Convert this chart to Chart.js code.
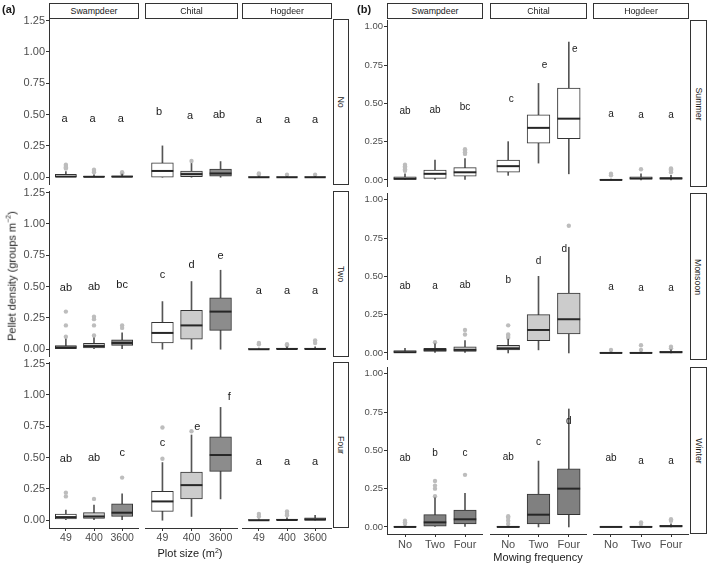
<!DOCTYPE html>
<html>
<head>
<meta charset="utf-8">
<script src="https://cdn.jsdelivr.net/npm/chart.js@4.4.1/dist/chart.umd.min.js"></script>
<style>
  body { margin: 0; width: 709px; height: 565px; position: relative; background: #fff; overflow: hidden;
         font-family: "Liberation Sans", Arial, sans-serif; color: #1a1a1a; }
  canvas { position: absolute; }
  .txt { position: absolute; z-index: 5; white-space: nowrap; }
  .strip { position: absolute; z-index: 5; box-sizing: border-box; border: 1px solid #333; background: #fff;
           font-size: 8.8px; display: flex; align-items: center; justify-content: center; }
  .strip span { white-space: nowrap; }
  .vstrip span { transform: rotate(90deg); }
  sup { font-size: 7px; }
</style>
</head>
<body>
<div class="txt" style="left:2px;top:3px;font-size:11px;font-weight:bold">(a)</div>
<div class="txt" style="left:357px;top:3px;font-size:11px;font-weight:bold">(b)</div>
<div class="txt" style="left:11px;top:276px;font-size:11px;transform:translate(-50%,-50%) rotate(-90deg)">Pellet density (groups m<sup>&minus;2</sup>)</div>
<div class="txt" style="left:190px;top:553px;font-size:11px;transform:translate(-50%,-50%)">Plot size (m<sup>2</sup>)</div>
<div class="txt" style="left:538px;top:557px;font-size:11px;transform:translate(-50%,-50%)">Mowing frequency</div>

<script>
// ---- data ----
const species = ['Swampdeer', 'Chital', 'Hogdeer'];
const mowingRows = ['No', 'Two', 'Four'];
const plotSizes = ['49', '400', '3600'];
const seasons = ['Summer', 'Monsoon', 'Winter'];
const mowingLabels = ['No', 'Two', 'Four'];
const yTicksA = [0, 0.25, 0.5, 0.75, 1.0, 1.25];
const yTicksB = [0, 0.25, 0.5, 0.75, 1.0];

// box stats: [lower whisker, q1, median, q3, upper whisker]; 3 species x 3 groups
const boxA_No = [
  [0, 0, 0.005, 0.024, 0.045], [0, 0, 0.003, 0.01, 0.02], [0, 0, 0.004, 0.012, 0.025],
  [0, 0, 0.05, 0.114, 0.25], [0, 0.005, 0.025, 0.05, 0.11], [0, 0.008, 0.03, 0.065, 0.125],
  [0, 0, 0, 0.004, 0.01], [0, 0, 0, 0.004, 0.008], [0, 0, 0, 0.004, 0.008]
];
const boxA_Two = [
  [0, 0, 0.015, 0.029, 0.08], [0, 0.01, 0.025, 0.048, 0.09], [0, 0.03, 0.05, 0.075, 0.13],
  [0, 0.05, 0.13, 0.215, 0.38], [0, 0.08, 0.19, 0.31, 0.54], [0, 0.15, 0.30, 0.41, 0.63],
  [0, 0, 0, 0.005, 0.01], [0, 0, 0.002, 0.01, 0.02], [0, 0, 0.002, 0.01, 0.02]
];
const boxA_Four = [
  [0, 0.01, 0.025, 0.05, 0.08], [0, 0.015, 0.03, 0.06, 0.12], [0, 0.03, 0.06, 0.13, 0.21],
  [0, 0.07, 0.15, 0.23, 0.46], [0.03, 0.17, 0.28, 0.385, 0.68], [0.17, 0.39, 0.52, 0.665, 0.90],
  [0, 0, 0, 0.005, 0.01], [0, 0, 0.002, 0.01, 0.02], [0, 0, 0.005, 0.02, 0.04]
];
const outA_No = [[0.1, 0.09, 0.08, 0.07], [0.06, 0.05, 0.04], [0.04, 0.03], [], [0.13], [], [0.03, 0.02], [0.02], [0.02]];
const outA_Two = [[0.3, 0.19, 0.1], [0.26, 0.24, 0.19, 0.11], [0.19, 0.17], [], [], [], [0.05, 0.04], [0.04, 0.03], [0.07, 0.05]];
const outA_Four = [[0.22, 0.19], [0.17], [0.34], [0.49, 0.74], [0.71], [], [0.05, 0.03], [0.07, 0.05, 0.04], []];
const letA_No = ['a', 'a', 'a', 'b', 'a', 'ab', 'a', 'a', 'a'];
const letA_Two = ['ab', 'ab', 'bc', 'c', 'd', 'e', 'a', 'a', 'a'];
const letA_Four = ['ab', 'ab', 'c', 'c', 'e', 'f', 'a', 'a', 'a'];
const letYA_No = [0.465, 0.465, 0.465, 0.524, 0.49, 0.497, 0.457, 0.457, 0.457];
const letYA_Two = [0.487, 0.495, 0.513, 0.593, 0.673, 0.747, 0.465, 0.465, 0.465];
const letYA_Four = [0.49, 0.497, 0.536, 0.62, 0.745, 0.98, 0.462, 0.462, 0.462];
const letXA_No = [0.95, 1.95, 2.95, 0.88, 1.95, 2.95, 1, 2, 3];
const letXA_Four = [1, 2, 3, 1, 2.2, 3.3, 1, 2, 3];

const boxB_Summer = [
  [0, 0, 0.008, 0.02, 0.04], [0, 0.01, 0.04, 0.065, 0.13], [0, 0.025, 0.05, 0.08, 0.14],
  [0.03, 0.05, 0.09, 0.13, 0.25], [0.11, 0.24, 0.34, 0.425, 0.63], [0.04, 0.27, 0.40, 0.60, 0.90],
  [0, 0, 0, 0.002, 0.005], [0, 0.005, 0.01, 0.02, 0.04], [0, 0.005, 0.01, 0.015, 0.03]
];
const boxB_Monsoon = [
  [0, 0, 0.005, 0.015, 0.03], [0, 0.01, 0.02, 0.03, 0.06], [0, 0.01, 0.02, 0.04, 0.08],
  [0, 0.02, 0.03, 0.05, 0.09], [0.02, 0.08, 0.15, 0.25, 0.50], [0, 0.125, 0.22, 0.39, 0.69],
  [0, 0, 0, 0.002, 0.005], [0, 0, 0, 0.003, 0.006], [0, 0, 0.005, 0.01, 0.02]
];
const boxB_Winter = [
  [0, 0, 0, 0.003, 0.006], [0, 0.005, 0.03, 0.08, 0.19], [0, 0.02, 0.05, 0.11, 0.22],
  [0, 0, 0, 0.002, 0.005], [0, 0.02, 0.08, 0.215, 0.43], [0, 0.08, 0.25, 0.38, 0.77],
  [0, 0, 0, 0.001, 0.002], [0, 0, 0, 0.002, 0.004], [0, 0, 0.005, 0.01, 0.02]
];
const outB_Summer = [[0.1, 0.09, 0.08, 0.07, 0.06], [], [0.2, 0.19, 0.18, 0.17], [], [], [], [0.04, 0.03], [0.07], [0.075, 0.07, 0.06, 0.05]];
const outB_Monsoon = [[], [0.07], [0.15, 0.12], [0.18, 0.12, 0.11, 0.10], [], [0.83], [0.02], [0.05, 0.02], [0.04, 0.03]];
const outB_Winter = [[0.04, 0.03, 0.02], [0.30, 0.27, 0.25, 0.20], [0.34], [0.07, 0.06, 0.04, 0.02], [], [], [], [0.03, 0.02], [0.05, 0.04]];
const letB_Summer = ['ab', 'ab', 'bc', 'c', 'e', 'e', 'a', 'a', 'a'];
const letB_Monsoon = ['ab', 'a', 'ab', 'b', 'd', 'd', 'a', 'a', 'a'];
const letB_Winter = ['ab', 'b', 'c', 'ab', 'c', 'd', 'ab', 'a', 'a'];
const letYB_Summer = [0.446, 0.457, 0.474, 0.528, 0.75, 0.852, 0.43, 0.424, 0.424];
const letYB_Monsoon = [0.437, 0.437, 0.443, 0.472, 0.60, 0.675, 0.432, 0.42, 0.42];
const letYB_Winter = [0.448, 0.48, 0.48, 0.452, 0.55, 0.688, 0.448, 0.426, 0.426];
const letXB_Summer = [1, 2, 3, 1.1, 2.2, 3.2, 1, 2, 3];
const letXB_Monsoon = [1, 2, 3, 1, 2, 2.85, 1, 2, 3];

// ---- styles / layout ----
const fillA = ['#ffffff', '#cccccc', '#8c8c8c'];
const fillB = ['#ffffff', '#cccccc', '#808080'];

const letterPlugin = {
  id: 'letters',
  afterDatasetsDraw(chart, args, opts) {
    const { ctx, scales: { x, y } } = chart;
    ctx.save();
    ctx.font = opts.font;
    ctx.fillStyle = '#1a1a1a';
    ctx.textAlign = 'center';
    ctx.textBaseline = 'middle';
    opts.labels.forEach((t, i) => ctx.fillText(t, x.getPixelForValue(opts.xs[i]), y.getPixelForValue(opts.ys[i])));
    ctx.restore();
  }
};

function noPad(s) {
  s.paddingLeft = 0; s.paddingRight = 0; s.paddingTop = 0; s.paddingBottom = 0;
}

function makePanel(p) {
  const canvas = document.createElement('canvas');
  const left = p.showY ? p.axisLeft : p.left;
  const yW = p.showY ? p.left - p.axisLeft : 0;
  const xH = p.showX ? 20 : 0;
  const topPad = p.showY ? 8 : 0;
  canvas.width = p.w + yW;
  canvas.height = p.h + xH + topPad;
  canvas.style.left = left + 'px';
  canvas.style.top = (p.top - topPad) + 'px';
  document.body.appendChild(canvas);

  const bt = 0.75 * p.w / 3.2;
  const idx = [1, 2, 3];
  const outliers = [];
  p.outs.forEach((arr, i) => arr.forEach(v => outliers.push({ x: i + 1, y: v })));

  new Chart(canvas, {
    type: 'bar',
    data: {
      datasets: [
        { type: 'scatter', data: idx.map(i => ({ x: i, y: p.boxes[i - 1][2] })), pointStyle: 'line',
          pointRadius: bt / 2, borderColor: '#262626', pointBorderColor: '#262626', borderWidth: 2, pointBorderWidth: 2, order: 0 },
        { data: idx.map(i => ({ x: i, y: [p.boxes[i - 1][1], p.boxes[i - 1][3]] })), backgroundColor: p.fills,
          borderColor: '#333333', borderWidth: 1, borderSkipped: false, barThickness: bt, grouped: false, order: 1 },
        { data: idx.map(i => ({ x: i, y: [p.boxes[i - 1][0], p.boxes[i - 1][4]] })), backgroundColor: '#555555',
          barThickness: 1, grouped: false, order: 2 },
        { type: 'scatter', data: outliers, pointRadius: 2.2, backgroundColor: '#bdbdbd', pointBackgroundColor: '#bdbdbd',
          borderWidth: 0, pointBorderWidth: 0, order: 3 }
      ]
    },
    options: {
      responsive: false,
      animation: false,
      events: [],
      layout: { padding: { top: topPad, left: 0, right: 0, bottom: 0 }, autoPadding: false },
      plugins: {
        legend: { display: false },
        tooltip: { enabled: false },
        letters: { labels: p.letters, ys: p.letterYs, xs: p.letterXs || idx, font: p.letterFont }
      },
      scales: {
        x: {
          type: 'linear', min: 0.4, max: 3.6, offset: false, display: p.showX,
          afterBuildTicks: s => { s.ticks = idx.map(v => ({ value: v })); },
          afterFit: s => { s.height = xH; noPad(s); },
          grid: { display: true, drawOnChartArea: false, offset: false, tickLength: 3, tickColor: '#333333' },
          border: { display: true, color: '#333333', width: 1 },
          ticks: { padding: 1, color: '#4d4d4d', font: { size: p.xTickSize, family: 'Liberation Sans' },
                   maxRotation: 0, autoSkip: false, callback: v => p.xLabels[v - 1] }
        },
        y: {
          type: 'linear', min: p.yMin, max: p.yMax, display: p.showY,
          afterBuildTicks: s => { s.ticks = p.yTicks.map(v => ({ value: v })); },
          afterFit: s => { s.width = yW; noPad(s); },
          grid: { display: true, drawOnChartArea: false, tickLength: 3, tickColor: '#333333' },
          border: { display: true, color: '#333333', width: 1 },
          ticks: { padding: 1, color: '#4d4d4d', font: { size: p.yTickSize, family: 'Liberation Sans' },
                   callback: v => v.toFixed(2) }
        }
      }
    },
    plugins: [letterPlugin]
  });
}

function strip(text, left, top, w, h, vertical) {
  const d = document.createElement('div');
  d.className = 'strip' + (vertical ? ' vstrip' : '');
  d.style.left = left + 'px'; d.style.top = top + 'px';
  d.style.width = w + 'px'; d.style.height = h + 'px';
  d.innerHTML = '<span>' + text + '</span>';
  document.body.appendChild(d);
}

// figure (a)
const colsA = [[49, 90], [145, 93], [242, 90]];
const rowTopsA = [19, 191, 362];
const hA = 166;
const boxesA = [boxA_No, boxA_Two, boxA_Four];
const outsA = [outA_No, outA_Two, outA_Four];
const letsA = [letA_No, letA_Two, letA_Four];
const letYsA = [letYA_No, letYA_Two, letYA_Four];
const letXsA = [letXA_No, null, letXA_Four];

colsA.forEach(([l, w], c) => strip(species[c], l, 3, w, 16, false));
rowTopsA.forEach((t, r) => {
  strip(mowingRows[r], 333, t, 16, hA, true);
  colsA.forEach(([l, w], c) => {
    makePanel({
      left: l, axisLeft: 0, top: t, w: w, h: hA,
      showY: c === 0, showX: r === 2,
      yMin: -0.062, yMax: 1.262, yTicks: yTicksA, xLabels: plotSizes,
      boxes: boxesA[r].slice(c * 3, c * 3 + 3), outs: outsA[r].slice(c * 3, c * 3 + 3),
      letters: letsA[r].slice(c * 3, c * 3 + 3), letterYs: letYsA[r].slice(c * 3, c * 3 + 3),
      letterXs: letXsA[r] ? letXsA[r].slice(c * 3, c * 3 + 3) : null,
      fills: fillA, letterFont: '11px "Liberation Sans"', xTickSize: 10.5, yTickSize: 11
    });
  });
});

// figure (b)
const colsB = [[387, 96], [490, 97], [593, 96]];
const rowTopsB = [20, 193, 367];
const hB = 167;
const boxesB = [boxB_Summer, boxB_Monsoon, boxB_Winter];
const outsB = [outB_Summer, outB_Monsoon, outB_Winter];
const letsB = [letB_Summer, letB_Monsoon, letB_Winter];
const letYsB = [letYB_Summer, letYB_Monsoon, letYB_Winter];
const letXsB = [letXB_Summer, letXB_Monsoon, null];

colsB.forEach(([l, w], c) => strip(species[c], l, 3, w, 16, false));
rowTopsB.forEach((t, r) => {
  strip(seasons[r], 690, t, 17, hB, true);
  colsB.forEach(([l, w], c) => {
    makePanel({
      left: l, axisLeft: 355, top: t, w: w, h: hB,
      showY: c === 0, showX: r === 2,
      yMin: -0.046, yMax: 1.044, yTicks: yTicksB, xLabels: mowingLabels,
      boxes: boxesB[r].slice(c * 3, c * 3 + 3), outs: outsB[r].slice(c * 3, c * 3 + 3),
      letters: letsB[r].slice(c * 3, c * 3 + 3), letterYs: letYsB[r].slice(c * 3, c * 3 + 3),
      letterXs: letXsB[r] ? letXsB[r].slice(c * 3, c * 3 + 3) : null,
      fills: [fillB[r], fillB[r], fillB[r]], letterFont: '10px "Liberation Sans"', xTickSize: 11, yTickSize: 9.5
    });
  });
});
</script>
</body>
</html>
